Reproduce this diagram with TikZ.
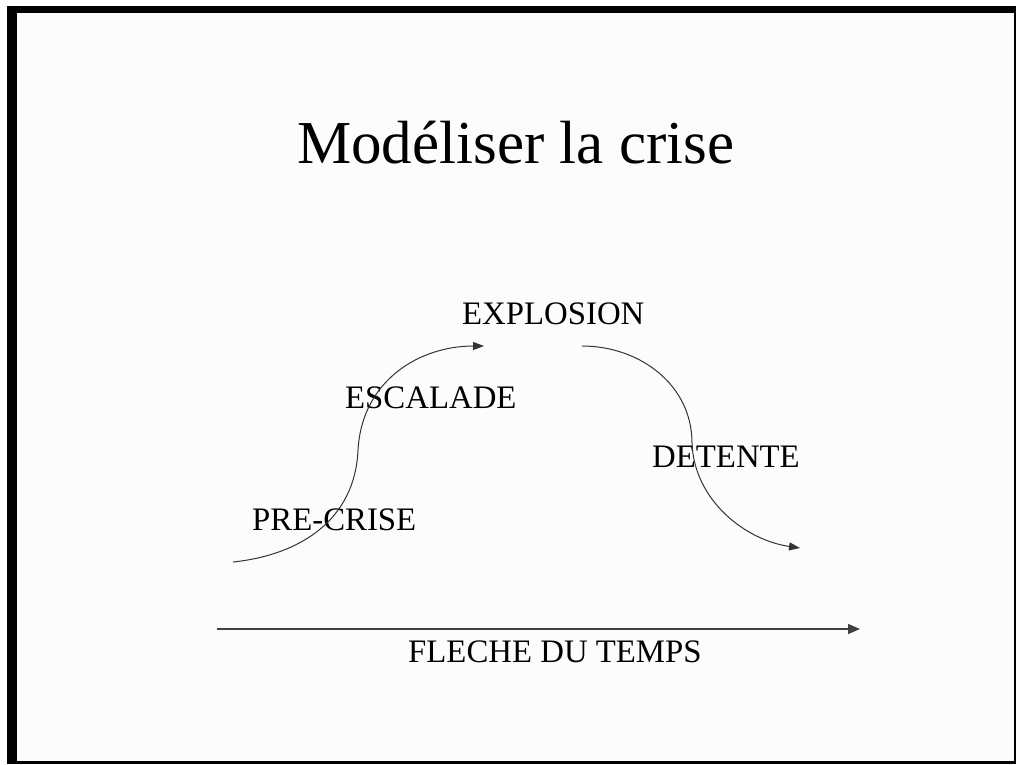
\documentclass[tikz,border=0pt]{standalone}
\usepackage{fontspec}
\setmainfont{Liberation Serif}
\usetikzlibrary{arrows.meta}
\begin{document}
\begin{tikzpicture}[x=1pt,y=-1pt,
  lbl/.style={anchor=base west,inner sep=0pt,font=\fontsize{32.8}{36}\selectfont},
  curvearrow/.style={draw=black!80,line width=1pt,-{Triangle[length=11pt,width=8pt]}},
  timearrow/.style={draw=black!75,line width=1.4pt,-{Triangle[length=12pt,width=10pt]}}]
\useasboundingbox (0,0) rectangle (1016,764);
\fill[white] (0,0) rectangle (1016,764);
% frame with shadow
\fill[black] (7,6) rectangle (1016,764);
\fill[white!99!black] (17,13) rectangle (1014,761);
% title
\node[anchor=base west,inner sep=0pt,font=\fontsize{61}{66}\selectfont] (title) at (297,163) {Modéliser la crise};
% labels
\node[lbl] (explosion) at (462,324) {EXPLOSION};
\node[lbl] (escalade) at (345,408) {ESCALADE};
\node[lbl] (precrise) at (252,530) {PRE-CRISE};
\node[lbl] (detente) at (652,467) {DETENTE};
\node[lbl] (temps) at (408,662) {FLECHE DU TEMPS};
% curve coordinates
\coordinate (c1s) at (233,562);
\coordinate (c1m) at (358,450);
\coordinate (c1e) at (484,346);
\coordinate (c2s) at (582,346);
\coordinate (c2m) at (692,443);
\coordinate (c2e) at (800,548);
\coordinate (ts) at (217,629);
\coordinate (te) at (860,629);
% curves
\draw[curvearrow] (c1s) .. controls (300,555) and (355,520) .. (c1m)
  .. controls (362,380) and (420,346) .. (c1e);
\draw[curvearrow] (c2s) .. controls (640,346) and (692,385) .. (c2m)
  .. controls (694,500) and (745,540) .. (c2e);
% time arrow
\draw[timearrow] (ts) -- (te);
\end{tikzpicture}
\end{document}
